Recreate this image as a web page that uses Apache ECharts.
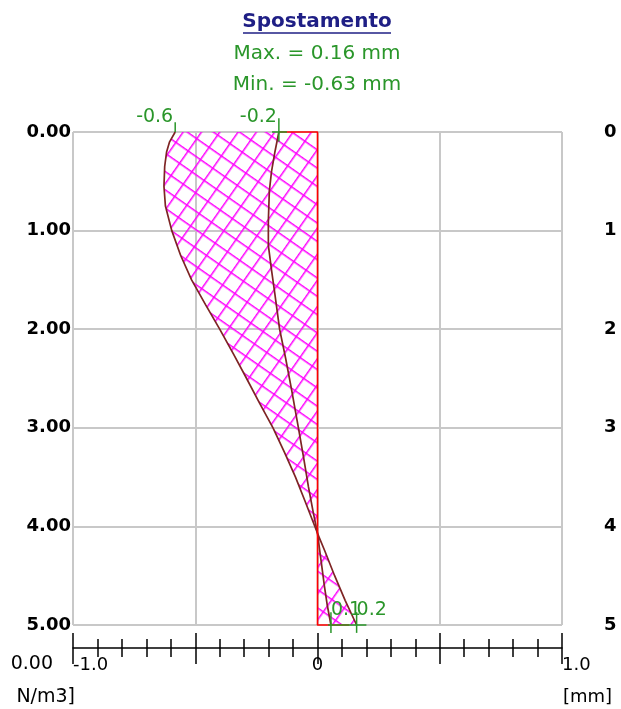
<!DOCTYPE html>
<html><head><meta charset="utf-8">
<script src="https://cdn.jsdelivr.net/npm/echarts@6/dist/echarts.min.js"></script>
<style>html,body{margin:0;padding:0;background:#fff;overflow:hidden}#c{width:621px;height:709px}</style>
</head><body><div id="c"></div>
<script>
// ---- data ----
const depthA = [0, 0.1, 0.2, 0.35, 0.55, 0.75, 1.0, 1.25, 1.5, 1.75, 2.0, 2.25, 2.5, 2.75, 3.0, 3.25, 3.5, 3.75, 4.07, 4.25, 4.5, 4.75, 5.0];
const dispA  = [-0.582, -0.605, -0.617, -0.625, -0.628, -0.622, -0.596, -0.56, -0.515, -0.458, -0.40, -0.344, -0.29, -0.237, -0.182, -0.135, -0.09, -0.05, 0, 0.03, 0.07, 0.113, 0.16];
const depthB = [0, 0.2, 0.4, 0.6, 0.9, 1.15, 1.4, 1.65, 2.0, 2.3, 2.6, 3.0, 3.3, 3.6, 3.85, 4.07, 4.3, 4.6, 4.8, 5.0];
const dispB  = [-0.158, -0.174, -0.188, -0.197, -0.201, -0.201, -0.188, -0.174, -0.155, -0.13, -0.107, -0.078, -0.057, -0.037, -0.018, 0, 0.012, 0.028, 0.04, 0.055];
const refDisp  = [-0.158, 0, 0, 0.13];
const refDepth = [0, 0, 5, 5];
const markerDisp  = [-0.582, -0.158, 0.055, 0.16];
const markerDepth = [0, 0, 5, 5];
const markerText  = ['-0.6', '-0.2', '0.1', '0.2'];
const yTickLabels = ['0.00', '1.00', '2.00', '3.00', '4.00', '5.00'];
const xTickValues = [-1, -0.5, 0, 0.5, 1];
const xTickLabels = ['-1.0', '', '0', '', '1.0'];
const titleText = 'Spostamento';
const maxText = 'Max. = 0.16 mm';
const minText = 'Min. = -0.63 mm';
const unitText = '[mm]';
const sideRight = ['0', '1', '2', '3', '4', '5'];

// ---- styles ----
const FONT = 'DejaVu Sans';
const GREEN = '#2a962a';
const BROWN = '#7e2424';
const NAVY = '#1f1f85';

const S = 15;
const tile = document.createElement('canvas');
tile.width = S; tile.height = S;
const g = tile.getContext('2d');
g.fillStyle = '#ff00ff';
g.fillRect(0, 0, S, 1.5);
g.fillRect(0, 0, 1.5, S);
const hatch = { image: tile, repeat: 'repeat', rotation: 35 * Math.PI / 180 };

const chart = echarts.init(document.getElementById('c'), null, { renderer: 'canvas' });

const grid = { left: 73, right: 59, top: 132, bottom: 84, containLabel: false };

function labelFor(v, arr, centerOnly) {
  const i = xTickValues.findIndex(t => Math.abs(t - v) < 1e-6);
  if (i < 0) return '';
  const t = arr[i];
  if (centerOnly) return t === '0' ? t : '';
  return t === '0' ? '' : t;
}

// marker tick segments
const markerSegs = [
  [[markerDisp[0], markerDepth[0] - 0.1], [markerDisp[0], markerDepth[0]]],
  [[markerDisp[1], markerDepth[1] - 0.14], [markerDisp[1], markerDepth[1] + 0.1]],
  [[markerDisp[1] - 0.028, markerDepth[1]], [markerDisp[1] + 0.033, markerDepth[1]]],
  [[markerDisp[2], markerDepth[2] - 0.13], [markerDisp[2], markerDepth[2] + 0.08]],
  [[markerDisp[3], markerDepth[3] - 0.13], [markerDisp[3], markerDepth[3] + 0.08]],
  [[markerDisp[2] - 0.012, markerDepth[2]], [markerDisp[3] + 0.04, markerDepth[3]]]
];

const series = [
  {
    type: 'custom', xAxisIndex: 0, yAxisIndex: 0, data: [[0, 0]], silent: true, clip: false, z: 2,
    renderItem: function (params, api) {
      const pts = dispA.map((d, i) => api.coord([d, depthA[i]]));
      pts.push(api.coord([0, 5]));
      pts.push(api.coord([0, 0]));
      return { type: 'polygon', shape: { points: pts }, style: { fill: hatch, stroke: null } };
    }
  },
  {
    type: 'line', xAxisIndex: 0, yAxisIndex: 0, data: dispA.map((d, i) => [d, depthA[i]]),
    symbol: 'none', smooth: false, clip: false, z: 4, silent: true,
    lineStyle: { color: BROWN, width: 1.7 }
  },
  {
    type: 'line', xAxisIndex: 0, yAxisIndex: 0, data: dispB.map((d, i) => [d, depthB[i]]),
    symbol: 'none', smooth: false, clip: false, z: 4, silent: true,
    lineStyle: { color: BROWN, width: 1.7 }
  },
  {
    type: 'line', xAxisIndex: 0, yAxisIndex: 0, data: refDisp.map((d, i) => [d, refDepth[i]]),
    symbol: 'none', clip: false, z: 5, silent: true,
    lineStyle: { color: '#ff0000', width: 1.6 }
  }
];
markerSegs.forEach(seg => series.push({
  type: 'line', xAxisIndex: 0, yAxisIndex: 0, data: seg, symbol: 'none', clip: false, z: 6, silent: true,
  lineStyle: { color: GREEN, width: 1.5 }
}));
series.push({
  type: 'scatter', xAxisIndex: 0, yAxisIndex: 0, symbolSize: 0, clip: false, z: 7, silent: true,
  itemStyle: { opacity: 1 },
  data: markerDisp.map((d, i) => ({
    value: [d, markerDepth[i]],
    label: markerDepth[i] === 0
      ? { align: 'right', offset: [-2, -15] }
      : { align: 'left', offset: [0, -15] }
  })),
  label: {
    show: true, position: 'inside', verticalAlign: 'middle', opacity: 1,
    formatter: p => markerText[p.dataIndex],
    color: GREEN, fontFamily: FONT, fontSize: 19
  }
});

const graphic = [
  { type: 'text', x: 317, y: 22, style: { text: titleText, fill: NAVY, fontFamily: FONT, fontWeight: 'bold', fontSize: 20, align: 'center', verticalAlign: 'middle' } },
  { type: 'line', shape: { x1: 243, y1: 33, x2: 391, y2: 33 }, style: { stroke: NAVY, lineWidth: 1.6 } },
  { type: 'text', x: 317, y: 54, style: { text: maxText, fill: GREEN, fontFamily: FONT, fontSize: 20, align: 'center', verticalAlign: 'middle' } },
  { type: 'text', x: 317, y: 85, style: { text: minText, fill: GREEN, fontFamily: FONT, fontSize: 20, align: 'center', verticalAlign: 'middle' } },
  { type: 'text', x: 563, y: 697, style: { text: unitText, fill: '#000', fontFamily: FONT, fontSize: 18, align: 'left', verticalAlign: 'middle' } },
  { type: 'text', x: 53, y: 664, style: { text: '0.00', fill: '#000', fontFamily: FONT, fontSize: 19, align: 'right', verticalAlign: 'middle' } },
  { type: 'text', x: 75, y: 697, style: { text: 'N/m3]', fill: '#000', fontFamily: FONT, fontSize: 19, align: 'right', verticalAlign: 'middle' } }
];
sideRight.forEach((t, i) => graphic.push({
  type: 'text', x: 604, y: 132 + i * 98.6, style: { text: t, fill: '#000', fontFamily: FONT, fontWeight: 'bold', fontSize: 18, align: 'left', verticalAlign: 'middle' }
}));

chart.setOption({
  animation: false,
  backgroundColor: '#fff',
  grid: [grid, Object.assign({}, grid)],
  xAxis: [
    {
      type: 'value', gridIndex: 0, min: -1, max: 1, interval: 0.5, position: 'bottom', offset: 23,
      axisLine: { show: true, onZero: false, lineStyle: { color: '#000', width: 1.5 } },
      axisTick: { show: true, inside: false, length: 16, lineStyle: { color: '#000', width: 1.5 } },
      minorTick: { show: true, splitNumber: 5, length: 9, lineStyle: { color: '#000', width: 1.5 } },
      axisLabel: { formatter: v => labelFor(v, xTickLabels, false), align: 'left', margin: 8, color: '#000', fontFamily: FONT, fontSize: 18, showMinLabel: true, showMaxLabel: true },
      splitLine: { show: true, lineStyle: { color: '#c8c8c8', width: 2 } }
    },
    {
      type: 'value', gridIndex: 1, min: -1, max: 1, interval: 0.5, position: 'bottom', offset: 23,
      axisLine: { show: false, onZero: false },
      axisTick: { show: true, inside: true, length: 15, lineStyle: { color: '#000', width: 1.5 } },
      minorTick: { show: true, splitNumber: 5, length: 9, lineStyle: { color: '#000', width: 1.5 } },
      axisLabel: { formatter: v => labelFor(v, xTickLabels, true), align: 'center', margin: 8, color: '#000', fontFamily: FONT, fontSize: 18 },
      splitLine: { show: false }
    }
  ],
  yAxis: [
    {
      type: 'value', gridIndex: 0, min: 0, max: 5, interval: 1, inverse: true,
      axisLine: { show: false }, axisTick: { show: false },
      axisLabel: { formatter: (v, i) => yTickLabels[Math.round(v)], margin: 2, color: '#000', fontFamily: FONT, fontWeight: 'bold', fontSize: 18 },
      splitLine: { show: true, lineStyle: { color: '#c8c8c8', width: 2 } }
    },
    {
      type: 'value', gridIndex: 1, min: 0, max: 5, interval: 1, inverse: true, show: false
    }
  ],
  graphic: graphic,
  series: series
});
</script></body></html>
